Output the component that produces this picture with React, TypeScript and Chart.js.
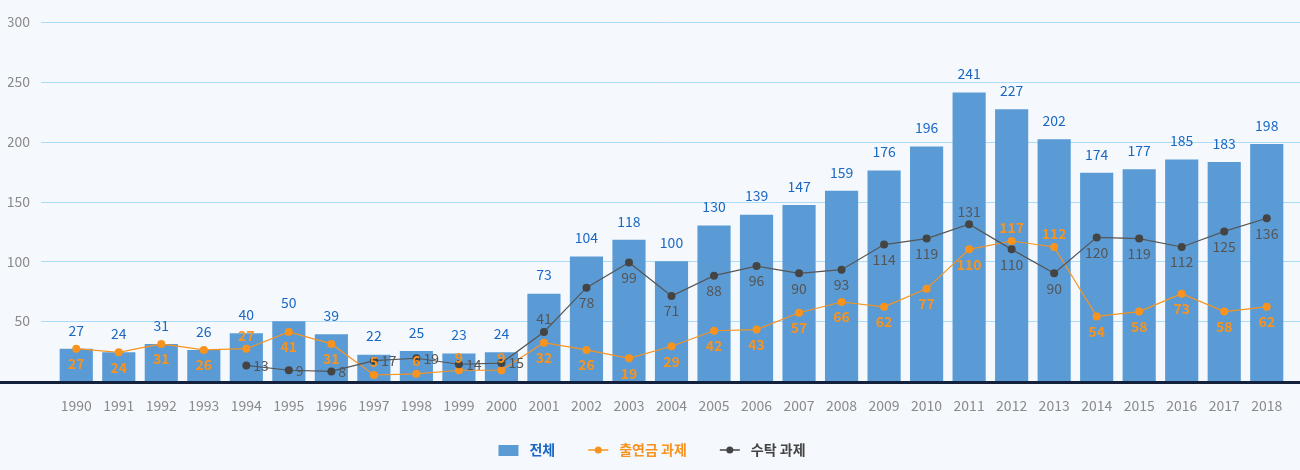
import React, { useEffect, useRef } from 'react';
import { Chart, registerables } from 'chart.js';

Chart.register(...registerables);

const years = ['1990','1991','1992','1993','1994','1995','1996','1997','1998','1999','2000','2001','2002','2003','2004','2005','2006','2007','2008','2009','2010','2011','2012','2013','2014','2015','2016','2017','2018'];
const totalValues = [27,24,31,26,40,50,39,22,25,23,24,73,104,118,100,130,139,147,159,176,196,241,227,202,174,177,185,183,198];
const fundedValues = [27,24,31,26,27,41,31,5,6,9,9,32,26,19,29,42,43,57,66,62,77,110,117,112,54,58,73,58,62];
const contractValues = [null,null,null,null,13,9,8,17,19,14,15,41,78,99,71,88,96,90,93,114,119,131,110,90,120,119,112,125,136];
const yTicks = [50,100,150,200,250,300];
const seriesNames = ['전체', '출연금 과제', '수탁 과제'];

const FONT = "'Noto Sans CJK KR', 'Noto Sans', sans-serif";
const BG = '#f5f9fd';
const BAR = '#5b9bd5';
const BLUE_TEXT = '#1a68c4';
const ORANGE = '#f7931e';
const GRAY = '#444444';

const fundedAbove = new Set([4, 7, 8, 9, 10, 22, 23]);
const contractRight = new Set([4, 5, 6, 7, 8, 9, 10]);
const contractAbove = new Set([11, 21]);

const overlayPlugin = {
  id: 'overlay',
  beforeDatasetsDraw(chart: any) {
    const { ctx, scales } = chart;
    const y = scales.y;
    ctx.save();
    ctx.strokeStyle = '#aadcf8';
    ctx.lineWidth = 1;
    yTicks.forEach((v) => {
      const py = Math.round(y.getPixelForValue(v)) + 0.5;
      ctx.beginPath();
      ctx.moveTo(41, py);
      ctx.lineTo(chart.width, py);
      ctx.stroke();
    });
    ctx.restore();
  },
  afterDatasetsDraw(chart: any) {
    const { ctx, scales } = chart;
    const y = scales.y;
    ctx.save();
    const by = y.getPixelForValue(0);
    ctx.fillStyle = '#13213d';
    ctx.fillRect(0, by, chart.width, 3);

    const barMeta = chart.getDatasetMeta(0);
    ctx.font = `14px ${FONT}`;
    ctx.textAlign = 'center';
    ctx.textBaseline = 'middle';
    ctx.fillStyle = BLUE_TEXT;
    barMeta.data.forEach((el: any, i: number) => {
      ctx.fillText(String(totalValues[i]), el.x, el.y - 18.5);
    });

    const fMeta = chart.getDatasetMeta(1);
    ctx.font = `bold 14px ${FONT}`;
    ctx.fillStyle = ORANGE;
    fMeta.data.forEach((el: any, i: number) => {
      const dy = fundedAbove.has(i) ? -13 : 15;
      ctx.fillText(String(fundedValues[i]), el.x, el.y + dy);
    });

    const cMeta = chart.getDatasetMeta(2);
    ctx.font = `14px ${FONT}`;
    ctx.fillStyle = '#555555';
    cMeta.data.forEach((el: any, i: number) => {
      const v = contractValues[i];
      if (v == null) return;
      if (contractRight.has(i)) {
        ctx.textAlign = 'left';
        ctx.fillText(String(v), el.x + 7, el.y);
      } else {
        ctx.textAlign = 'center';
        const dy = contractAbove.has(i) ? -13 : 15;
        ctx.fillText(String(v), el.x, el.y + dy);
      }
    });
    ctx.restore();
  },
  afterDraw(chart: any) {
    const { ctx } = chart;
    ctx.save();
    ctx.font = `bold 14px ${FONT}`;
    ctx.textBaseline = 'middle';
    ctx.textAlign = 'left';
    const cy = 450;
    const markerW = 20;
    const gapText = 11;
    const gapItem = 33;
    const widths = seriesNames.map((n) => ctx.measureText(n).width);
    const total = widths.reduce((a, b) => a + b, 0) + 3 * (markerW + gapText) + 2 * gapItem;
    let x = chart.width / 2 - total / 2 + 2;
    const colors = [BLUE_TEXT, ORANGE, '#444444'];
    seriesNames.forEach((name, i) => {
      if (i === 0) {
        ctx.fillStyle = BAR;
        ctx.fillRect(x, cy - 5, markerW, 11);
      } else {
        const c = i === 1 ? ORANGE : GRAY;
        ctx.strokeStyle = c;
        ctx.lineWidth = 1.5;
        ctx.beginPath();
        ctx.moveTo(x, cy);
        ctx.lineTo(x + markerW, cy);
        ctx.stroke();
        ctx.fillStyle = c;
        ctx.beginPath();
        ctx.arc(x + markerW / 2, cy, 3.5, 0, Math.PI * 2);
        ctx.fill();
      }
      x += markerW + gapText;
      ctx.fillStyle = colors[i];
      ctx.fillText(name, x, cy);
      x += widths[i] + gapItem;
    });
    ctx.restore();
  },
};

export default function App() {
  const ref = useRef<HTMLCanvasElement | null>(null);
  useEffect(() => {
    document.body.style.margin = '0';
    document.body.style.background = BG;
    if (!ref.current) return;
    Chart.defaults.font.family = FONT;
    const chart = new Chart(ref.current, {
      type: 'bar',
      data: {
        labels: years,
        datasets: [
          {
            type: 'bar',
            label: seriesNames[0],
            data: totalValues,
            backgroundColor: BAR,
            barPercentage: 0.78,
            categoryPercentage: 1,
            order: 3,
          },
          {
            type: 'line',
            label: seriesNames[1],
            data: fundedValues,
            borderColor: ORANGE,
            backgroundColor: ORANGE,
            borderWidth: 1.2,
            pointRadius: 4,
            pointBackgroundColor: ORANGE,
            pointBorderWidth: 0,
            tension: 0,
            order: 2,
          },
          {
            type: 'line',
            label: seriesNames[2],
            data: contractValues,
            borderColor: '#555555',
            backgroundColor: GRAY,
            borderWidth: 1.2,
            pointRadius: 4,
            pointBackgroundColor: GRAY,
            pointBorderWidth: 0,
            tension: 0,
            spanGaps: false,
            order: 1,
          },
        ],
      } as any,
      options: {
        responsive: false,
        animation: false,
        layout: { padding: { left: 8, right: 12, top: 22, bottom: 57 } },
        plugins: { legend: { display: false }, tooltip: { enabled: false } },
        scales: {
          x: {
            offset: true,
            grid: { display: false, drawTicks: false },
            border: { display: false },
            ticks: { color: '#8a8a8a', font: { size: 14, family: FONT }, padding: 16, maxRotation: 0, autoSkip: false },
            afterFit: (s: any) => { s.height = 32; },
          },
          y: {
            min: 0,
            max: 300,
            grid: { display: false, drawTicks: false },
            border: { display: false },
            ticks: {
              stepSize: 50,
              color: '#8a8a8a',
              font: { size: 14, family: FONT },
              padding: 25,
              callback: (v: any) => (v === 0 ? '' : String(v)),
            },
            afterFit: (s: any) => { s.width = 47; s.paddingTop = 0; s.paddingBottom = 0; },
          },
        },
      } as any,
      plugins: [overlayPlugin],
    });
    return () => chart.destroy();
  }, []);
  return (
    <div style={{ width: 1300, height: 470, background: BG }}>
      <canvas ref={ref} width={1300} height={470} style={{ display: 'block' }} />
    </div>
  );
}
